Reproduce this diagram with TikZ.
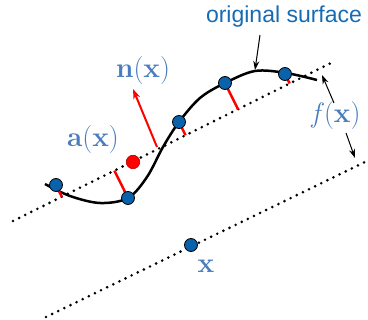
\documentclass[tikz,border=0pt]{standalone}
\usepackage{fontspec}
\newfontfamily\labelsans{Liberation Sans}
\usetikzlibrary{arrows.meta,calc}
\definecolor{dotblue}{RGB}{10,98,170}
\definecolor{txtblue}{RGB}{22,108,180}
\definecolor{mathblue}{RGB}{72,124,190}
\tikzset{
  dotline/.style={line width=2.9pt,line cap=round,dash pattern=on 0pt off 6.8pt},
  bdot/.style={circle,draw=black,line width=0.8pt,fill=dotblue,minimum size=13pt,inner sep=0pt},
  rdot/.style={circle,draw=red!70!black,line width=0.6pt,fill=red,minimum size=13.5pt,inner sep=0pt},
  rseg/.style={red,line width=2.5pt},
  surf/.style={black,line width=2.5pt},
  blackarrow/.style={black,line width=1pt,-{Stealth[length=9pt,width=6pt]}},
  redarrow/.style={red,line width=2pt,-{Stealth[length=10pt,width=7pt]}},
  mlabel/.style={text=mathblue,font=\fontsize{28}{32}\selectfont,inner sep=0pt},
  slabel/.style={text=txtblue,font=\labelsans\fontsize{23}{26}\selectfont,inner sep=0pt}
}
\begin{document}
\begin{tikzpicture}[x=1pt,y=-1pt]
\useasboundingbox (0,0) rectangle (368,320);
% dotted lines
\coordinate (L1a) at (13,221);
\coordinate (L1b) at (333,62);
\coordinate (L2a) at (46,317);
\coordinate (L2b) at (365,162);
\draw[dotline] (L1a) -- (L1b);
\draw[dotline] (L2a) -- (L2b);
% surface curve
\draw[surf] plot[smooth,tension=0.55] coordinates {(45,184) (70,196) (100,203) (128,198) (147,177) (163,147) (179,122) (200,98) (225,83) (255,71) (286,73) (317,80)};
% sample points
\coordinate (p1) at (56,185);
\coordinate (p2) at (128,198);
\coordinate (p3) at (179,122);
\coordinate (p4) at (225,83);
\coordinate (p5) at (285,74);
\foreach \p in {p1,p2,p3,p4,p5}{
  \draw[rseg] (\p) -- ($(L1a)!(\p)!(L1b)$);
}
\foreach \p in {p1,p2,p3,p4,p5}{
  \node[bdot] (n\p) at (\p) {};
}
% red point a(x)
\node[rdot] (ra) at (133,162) {};
% normal
\coordinate (nst) at (157,147);
\coordinate (nen) at (133,89);
\draw[redarrow] (nst) -- (nen);
% x point
\node[bdot] (xp) at (191,245) {};
% labels
\node[mlabel] (lx) at (206,266) {\bfseries x};
\node[mlabel] (ln) at (143,71) {{\bfseries n}({\bfseries x})};
\node[mlabel] (la) at (93,140) {{\bfseries a}({\bfseries x})};
\node[mlabel] (lf) at (336,116) {\textit{f}({\bfseries x})};
\node[slabel] (ls) at (284,17) {original surface};
% arrows
\coordinate (sa) at (260,35);
\coordinate (sb) at (255,70);
\draw[blackarrow] (sa) -- (sb);
\coordinate (fa1) at (334,103);
\coordinate (fb1) at (322,75);
\draw[blackarrow] (fa1) -- (fb1);
\coordinate (fa2) at (346,133);
\coordinate (fb2) at (355,158);
\draw[blackarrow] (fa2) -- (fb2);
\end{tikzpicture}
\end{document}
